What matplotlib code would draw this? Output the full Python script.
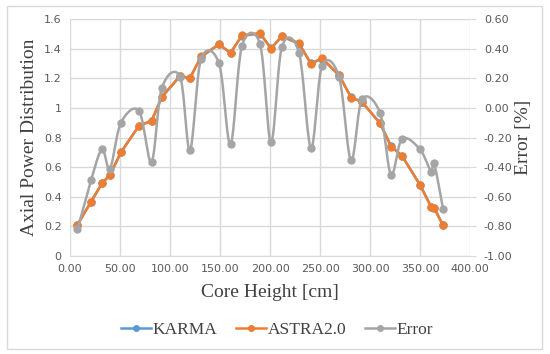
import numpy as np
import matplotlib.pyplot as plt
from matplotlib.patches import Rectangle
from matplotlib.ticker import FixedLocator, FuncFormatter

height = [7.5, 21, 32, 40, 51, 69, 81.5, 92, 110, 120, 131, 149, 160.5, 172, 190,
          201, 212, 229, 241, 252, 269, 281, 292, 310, 321, 332, 350, 361, 364, 373]
astra = [0.21, 0.365, 0.49, 0.547, 0.70, 0.88, 0.91, 1.076, 1.216, 1.20, 1.347, 1.43,
         1.37, 1.49, 1.505, 1.40, 1.486, 1.437, 1.297, 1.336, 1.223, 1.07, 1.04, 0.897,
         0.739, 0.676, 0.48, 0.333, 0.326, 0.207]
karma = [0.212, 0.367, 0.491, 0.549, 0.701, 0.88, 0.913, 1.074, 1.213, 1.203, 1.343, 1.428,
         1.373, 1.487, 1.501, 1.403, 1.482, 1.432, 1.30, 1.333, 1.22, 1.074, 1.039, 0.897,
         0.743, 0.677, 0.481, 0.334, 0.327, 0.209]
error = [-0.82, -0.49, -0.28, -0.41, -0.10, -0.02, -0.364, 0.136, 0.21, -0.285, 0.328, 0.30,
         -0.245, 0.418, 0.43, -0.233, 0.413, 0.372, -0.27, 0.282, 0.21, -0.353, 0.057, -0.033,
         -0.45, -0.21, -0.28, -0.43, -0.37, -0.68]

BLUE, ORANGE, GRAY = "#5B9BD5", "#ED7D31", "#A5A5A5"
TICK = "#595959"
GRID = "#D9D9D9"


def smooth(xs, ys, n=20):
    # Excel-like smoothed line (Catmull-Rom through the points)
    p = np.column_stack([xs, ys]).astype(float)
    p = np.vstack([p[0], p, p[-1]])
    out = []
    t = np.linspace(0, 1, n, endpoint=False)[:, None]
    for i in range(1, len(p) - 2):
        p0, p1, p2, p3 = p[i - 1], p[i], p[i + 1], p[i + 2]
        c1 = p1 + (p2 - p0) / 6
        c2 = p2 - (p3 - p1) / 6
        seg = ((1 - t) ** 3) * p1 + 3 * ((1 - t) ** 2) * t * c1 + 3 * (1 - t) * t ** 2 * c2 + t ** 3 * p2
        out.append(seg)
    out.append(p[-2][None, :])
    out = np.vstack(out)
    return out[:, 0], out[:, 1]


def fmt_left(v, p):
    v = round(v, 2)
    if v == 0:
        return "0"
    return f"{v:.1f}".rstrip("0").rstrip(".")


def fmt_right(v, p):
    v = round(v, 2)
    return f"{abs(v):.2f}" if v == 0 else f"{v:.2f}"


fig = plt.figure(figsize=(5.5, 3.54), dpi=100)
fig.patches.append(Rectangle((7 / 550, 1 - 349 / 354), 535 / 550, 343 / 354,
                             transform=fig.transFigure, fill=False, edgecolor=GRID, lw=1))
ax = fig.add_axes([70 / 550, 1 - 256 / 354, 400 / 550, 237 / 354])
ax2 = ax.twinx()

ax.plot(height, karma, "-o", color=BLUE, lw=1.8, ms=5, label="KARMA")
ax.plot(height, astra, "-o", color=ORANGE, lw=1.8, ms=5, label="ASTRA2.0")
sx, sy = smooth(height, error)
ax2.plot(sx, sy, "-", color=GRAY, lw=1.8)
ax2.plot(height, error, "o", color=GRAY, ms=5)

ax.set_xlim(0, 400)
ax.set_ylim(0, 1.6)
ax2.set_ylim(-1.0, 0.6)
ax.xaxis.set_major_locator(FixedLocator(np.arange(0, 401, 50)))
ax.yaxis.set_major_locator(FixedLocator(np.arange(0, 1.61, 0.2)))
ax2.yaxis.set_major_locator(FixedLocator(np.arange(-1.0, 0.61, 0.2)))
ax.xaxis.set_major_formatter(FuncFormatter(lambda v, p: f"{v:.2f}"))
ax.yaxis.set_major_formatter(FuncFormatter(fmt_left))
ax2.yaxis.set_major_formatter(FuncFormatter(fmt_right))

ax.grid(True, color=GRID, lw=1)
ax.set_axisbelow(True)
for a in (ax, ax2):
    for s in a.spines.values():
        s.set_visible(False)
ax.spines["bottom"].set_visible(True)
ax.spines["bottom"].set_color(GRID)
ax.tick_params(axis="both", length=0, colors=TICK, labelsize=8, pad=6)
ax2.tick_params(axis="y", length=4, color=GRID, colors=TICK, labelsize=8, pad=6)

ax.set_xlabel("Core Height [cm]", family="Liberation Serif", fontsize=14, color="#404040", labelpad=7)
ax.set_ylabel("Axial Power Distribution", family="Liberation Serif", fontsize=14, color="#404040", labelpad=4)
ax2.set_ylabel("Error [%]", family="Liberation Serif", fontsize=14, color="#404040", labelpad=2)

h1, = ax.plot([], [], "-o", color=BLUE, lw=1.8, ms=4)
h2, = ax.plot([], [], "-o", color=ORANGE, lw=1.8, ms=4)
h3, = ax.plot([], [], "-o", color=GRAY, lw=1.8, ms=4)
fig.legend([h1, h2, h3], ["KARMA", "ASTRA2.0", "Error"], loc="center", bbox_to_anchor=(277 / 550, 1 - 330 / 354),
           ncol=3, frameon=False, prop={"family": "Liberation Serif", "size": 12.5},
           handlelength=1.7, handletextpad=0.1, columnspacing=1.1, labelcolor="#404040")

fig.savefig("out.png", dpi=100)
